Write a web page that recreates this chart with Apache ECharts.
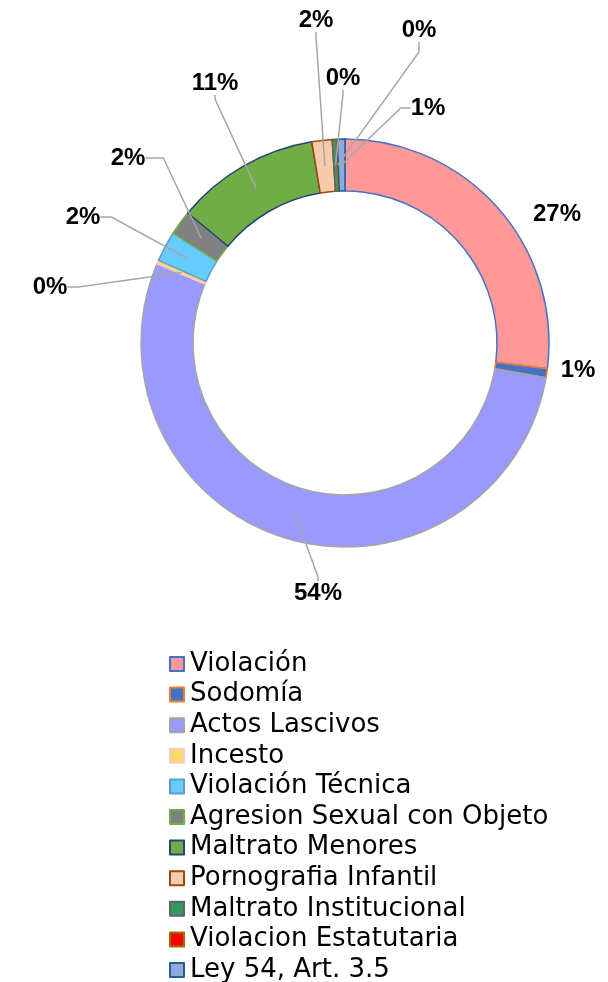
<!DOCTYPE html>
<html><head><meta charset="utf-8">
<script src="https://cdn.jsdelivr.net/npm/echarts@6/dist/echarts.min.js"></script>
<style>html,body{margin:0;padding:0;background:#fff}#c{width:608px;height:982px}</style>
</head><body><div id="c"></div>
<script>
const categories = ['Violación','Sodomía','Actos Lascivos','Incesto','Violación Técnica','Agresion Sexual con Objeto','Maltrato Menores','Pornografia Infantil','Maltrato Institucional','Violacion Estatutaria','Ley 54, Art. 3.5'];
const values = [27.0, 0.7, 53.6, 0.3, 2.4, 1.95, 11.4, 1.6, 0.3, 0.1, 0.6];
const fills = ['#FF9999','#4472C4','#9999FF','#FFD966','#66CCFF','#808080','#70AD47','#F8CBAD','#339966','#FF0000','#8EA9DB'];
const borders = ['#4472C4','#ED7D31','#A5A5A5','#FFC7CE','#5B9BD5','#70AD47','#264478','#9E480E','#636363','#997300','#255E91'];

// label placement (layout only): text centre, leader line shown or not, elbow length
const labelSpec = [
  {x:557, y:214, line:false},
  {x:578, y:370, line:false},
  {x:318, y:593, line:true, l2:4},
  {x:50,  y:287, line:true, l2:11},
  {x:83,  y:217, line:true, l2:11},
  {x:128, y:158, line:true, l2:18},
  {x:215, y:83,  line:true, l2:4},
  {x:316, y:20,  line:true, l2:4},
  {x:343, y:78,  line:true, l2:4},
  {x:419, y:30,  line:true, l2:10},
  {x:428, y:108, line:true, l2:10}
];
const CX = 345, CY = 343, R_IN = 152, R_OUT = 204;

const chart = echarts.init(document.getElementById('c'));
chart.setOption({
  animation:false,
  legend:{
    orient:'vertical', left:164, top:646, height:400,
    itemWidth:14, itemHeight:14, itemGap:4.6, icon:'rect',
    textStyle:{fontFamily:'DejaVu Sans', fontSize:26, lineHeight:26, color:'#000', padding:[0,0,0,1]},
    data:categories
  },
  series:[{
    type:'pie', center:[CX,CY], radius:[R_IN,R_OUT], startAngle:90, clockwise:true,
    label:{show:false}, labelLine:{show:false}, silent:true,
    data:categories.map((n,i)=>({name:n, value:values[i],
      itemStyle:{color:fills[i], borderColor:borders[i], borderWidth:1.5}}))
  },{
    // transparent carrier series: its labels' leader lines end in the middle of the ring
    type:'pie', center:[CX,CY], radius:[R_IN, (R_IN+R_OUT)/2], startAngle:90, clockwise:true,
    silent:true, avoidLabelOverlap:false, z:3,
    itemStyle:{color:'rgba(0,0,0,0)', borderWidth:0},
    label:{show:true, position:'outside', fontFamily:'Liberation Sans', fontWeight:'bold', fontSize:24, color:'#000',
      formatter:p=>Math.round(p.percent)+'%'},
    labelLine:{show:true, length:10, length2:10, lineStyle:{color:'#A6A6A6', width:1.5}},
    labelLayout:function(params){
      const s = labelSpec[params.dataIndex];
      return {x:s.x, y:s.y, align:'center', verticalAlign:'middle'};
    },
    data:categories.map((n,i)=>({name:n, value:values[i],
      labelLine:{show:labelSpec[i].line, length2:labelSpec[i].l2 || 10}}))
  }]
});
</script></body></html>
